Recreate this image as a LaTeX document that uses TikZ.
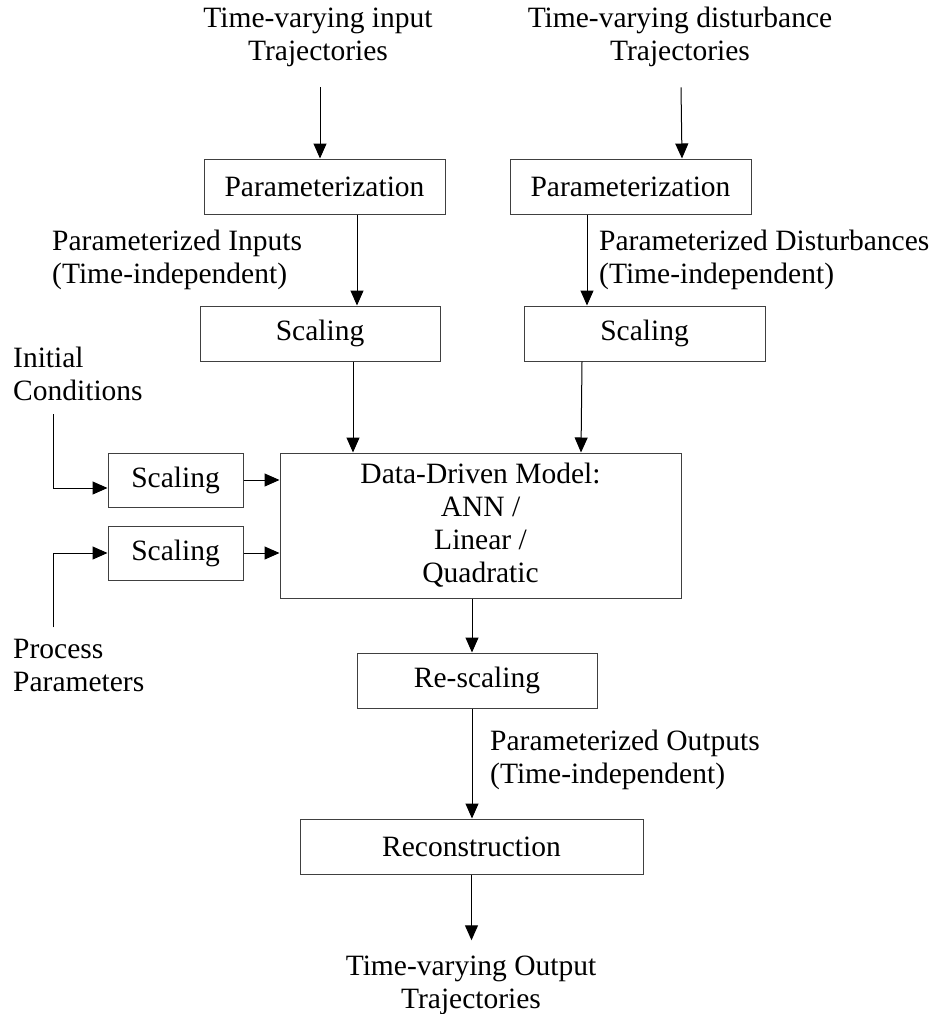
\documentclass[tikz,border=0pt]{standalone}
\usepackage{fontspec}
\setmainfont{Liberation Serif}
\usetikzlibrary{
    positioning,
    arrows.meta
}

\begin{document}
\begin{tikzpicture}[
    x=1pt, y=-1pt,
    font=\fontsize{29.5}{33}\selectfont,
    % Node styles
    proc/.style={rectangle, draw=black!75, line width=1pt, minimum height=55pt, inner sep=0pt},
    txt/.style={inner sep=0pt, align=center, anchor=base},
    side/.style={inner sep=0pt, align=left, anchor=base west},
    % Arrow styles
    arrow/.style={-{Triangle[length=15pt, width=13pt]}, line width=1pt, draw=black}
]
\useasboundingbox (0,0) rectangle (931,1014);

% --- Inputs on top (base = last line) ---
\node[txt] (txt_in) at (318,61) {Time-varying input\\Trajectories};
\node[txt] (txt_dist) at (680,61) {Time-varying disturbance\\Trajectories};

% === Parameterization and scaling columns ===
\node[proc, minimum width=241pt] (par_in) at (324.5,186.5) {Parameterization};
\node[proc, minimum width=241pt, right=64pt of par_in] (par_dist) {Parameterization};
\node[proc, minimum width=240pt, below=91pt of par_in, xshift=-4.5pt] (scl_in) {Scaling};
\node[proc, minimum width=241pt, below=91pt of par_dist, xshift=14pt] (scl_dist) {Scaling};

% === Model and side inputs ===
\node[proc, minimum width=401pt, minimum height=145pt, align=center,
      below=91pt of scl_in, xshift=160.5pt] (model)
    {Data-Driven Model:\\ANN /\\Linear /\\Quadratic};
\node[proc, minimum width=135pt, minimum height=54pt,
      below left=0pt and 36pt of model.north west] (scl_ic) {Scaling};
\node[proc, minimum width=135pt, minimum height=54pt, below=18pt of scl_ic] (scl_pp) {Scaling};
\node[side] (txt_ic) at (13,400) {Initial\\Conditions};
\node[side] (txt_pp) at (13,691) {Process\\Parameters};

% === Outputs ===
\node[proc, minimum width=240pt, below=54pt of model, xshift=-3.5pt] (rescl) {Re-scaling};
\node[proc, minimum width=343pt, below=110pt of rescl, xshift=-5.5pt] (recon) {Reconstruction};
\node[txt] (txt_out) at (471,1008) {Time-varying Output\\Trajectories};

% --- Labels next to the arrows ---
\node[side] (lbl_in) at (52,283) {Parameterized Inputs\\(Time-independent)};
\node[side] (lbl_dist) at (599,283) {Parameterized Disturbances\\(Time-independent)};
\node[side] (lbl_out) at (490,783) {Parameterized Outputs\\(Time-independent)};

% --- Arrows ---
\draw[arrow] ([xshift=2pt, yshift=-20pt]txt_in.south) -- ([xshift=-4.5pt]par_in.north);
\draw[arrow] ([xshift=1pt, yshift=-20pt]txt_dist.south) -- ([xshift=51.5pt]par_dist.north);
\draw[arrow] ([xshift=32.5pt]par_in.south) -- ([xshift=37pt]scl_in.north);
\draw[arrow] ([xshift=-43.5pt]par_dist.south) -- ([xshift=-57.5pt]scl_dist.north);
\draw[arrow] ([xshift=33pt]scl_in.south) -- ([xshift=-127.5pt]model.north);
\draw[arrow] ([xshift=-62.5pt]scl_dist.south) -- ([xshift=100.5pt]model.north);

\draw[arrow] ([xshift=40pt, yshift=-14pt]txt_ic.south west) |- ([yshift=-8pt]scl_ic.west);
\draw[arrow] ([xshift=40pt, yshift=11pt]txt_pp.north west) |- (scl_pp.west);
\draw[arrow] (scl_ic) -- (scl_ic -| model.west);
\draw[arrow] (scl_pp) -- (scl_pp -| model.west);

\draw[arrow] ([xshift=-8.5pt]model.south) -- ([xshift=-5pt]rescl.north);
\draw[arrow] ([xshift=-5pt]rescl.south) -- ([xshift=0.5pt]recon.north);
\draw[arrow, shorten >=15pt] (recon.south) -- (recon.south |- txt_out.north);

\end{tikzpicture}
\end{document}
